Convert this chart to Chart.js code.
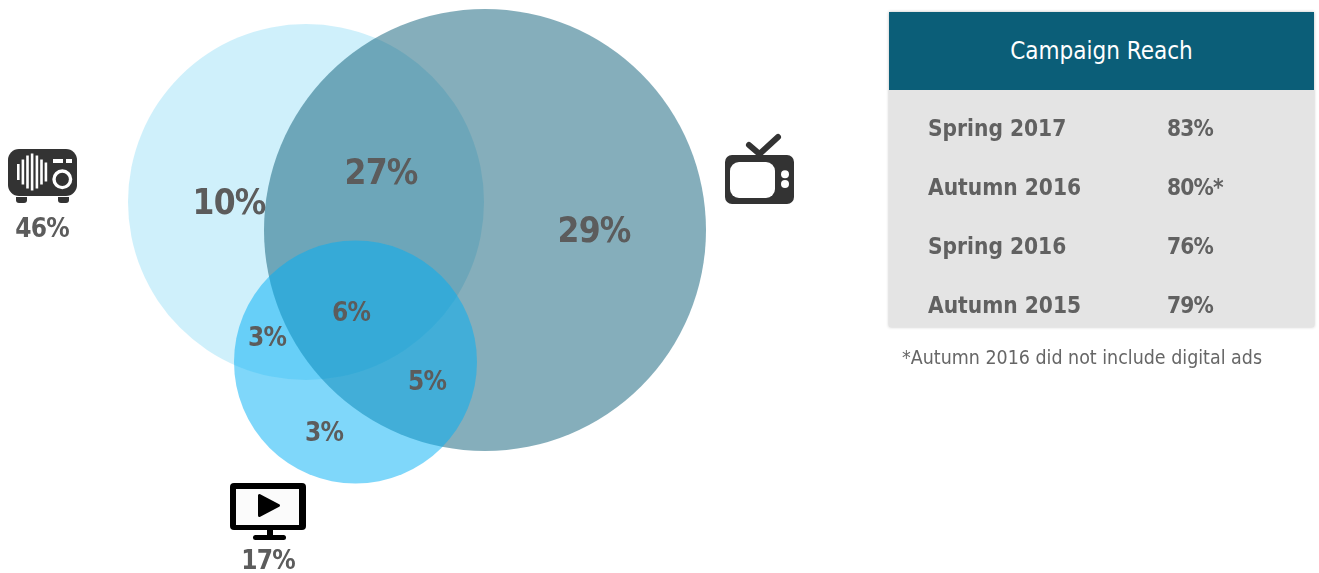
<!DOCTYPE html>
<html>
<head>
<meta charset="utf-8">
<title>Campaign Reach</title>
<script src="https://cdn.jsdelivr.net/npm/chart.js@4"></script>
<style>
    html, body { margin: 0; background: #fff; }
    body { width: 1319px; height: 573px; position: relative; overflow: hidden; font-family: "DejaVu Sans Condensed", "DejaVu Sans", sans-serif; }
    #vennChart { position: absolute; left: 0; top: 0; }
    #reachTable { position: absolute; left: 889px; top: 12px; width: 425px; height: 315px; background: #e4e4e4; box-shadow: 0 0 3px #bdbdbd; overflow: hidden; }
    #reachTable .head { height: 78px; line-height: 79px; background: #0b5e78; color: #fff; font-size: 24px; text-align: center; }
    #reachTable .row { position: absolute; left: 0; width: 100%; height: 30px; line-height: 30px; color: #616161; font-size: 22.5px; font-weight: bold; }
    #reachTable .row span { position: absolute; left: 39px; white-space: nowrap; }
    #reachTable .row span + span { left: 278px; letter-spacing: -0.8px; }
    #note { position: absolute; left: 902px; top: 346px; color: #666; font-size: 19.45px; white-space: nowrap; }
</style>
</head>
<body>
<canvas id="vennChart" width="1319" height="573"></canvas>
<div id="reachTable"><div class="head">Campaign Reach</div></div>
<div id="note">*Autumn 2016 did not include digital ads</div>

<script>
// circles of the venn diagram: radio, tv, digital video
const circleX = [306, 485, 355.5];
const circleY = [202, 230, 362];
const circleR = [178, 221, 121.5];

// share printed inside each region
const regionShares = ['10%', '27%', '29%', '6%', '3%', '5%', '3%'];
const regionX = [229, 381, 594, 351, 267, 427, 324];
const regionY = [205, 175, 233, 314, 339, 383, 434];
const regionSize = [35, 35, 35, 26, 26, 26, 26];

// totals printed under the icons
const channelTotals = ['46%', '17%'];
const totalX = [42, 268];
const totalY = [230, 562];

const seasons = ['Spring 2017', 'Autumn 2016', 'Spring 2016', 'Autumn 2015'];
const campaignReach = ['83%', '80%*', '76%', '79%'];

const circleColors = ['rgba(160,226,247,0.5)', 'rgba(11,94,120,0.5)', 'rgba(0,176,245,0.5)'];
const labelColor = '#5c5c5c';
const iconColor = '#333';

const table = document.getElementById('reachTable');
seasons.forEach((season, i) => {
    const row = document.createElement('div');
    row.className = 'row';
    row.style.top = (101 + i * 59) + 'px';
    row.innerHTML = `<span>${season}</span><span>${campaignReach[i]}</span>`;
    table.appendChild(row);
});

function roundBox(ctx, x, y, w, h, r) {
    ctx.beginPath();
    ctx.roundRect(x, y, w, h, r);
}

function drawRadio(ctx) {
    ctx.fillStyle = iconColor;
    roundBox(ctx, 8, 149, 69, 47, 11);
    ctx.fill();
    roundBox(ctx, 16, 197, 11, 6, [0, 0, 3, 3]);
    ctx.fill();
    roundBox(ctx, 58, 197, 11, 6, [0, 0, 3, 3]);
    ctx.fill();

    ctx.fillStyle = '#fff';
    const stripeX = [17, 21.6, 26.2, 30.8, 35.6, 40.2, 44.6];
    const stripeH = [16, 25, 33, 37, 33, 25, 19];
    stripeX.forEach((x, i) => ctx.fillRect(x, 172 - stripeH[i] / 2, 2.6, stripeH[i]));
    ctx.fillRect(53, 159, 10, 4);
    ctx.fillRect(66, 159, 6, 4);

    ctx.strokeStyle = '#fff';
    ctx.lineWidth = 3.4;
    ctx.beginPath();
    ctx.arc(62.3, 179.3, 8.3, 0, Math.PI * 2);
    ctx.stroke();
}

function drawTv(ctx) {
    ctx.fillStyle = iconColor;
    roundBox(ctx, 725, 155, 69, 49, 7);
    ctx.fill();

    ctx.strokeStyle = iconColor;
    ctx.lineWidth = 6;
    ctx.lineCap = 'round';
    ctx.beginPath();
    ctx.moveTo(749, 145);
    ctx.lineTo(759.5, 154);
    ctx.lineTo(778, 137);
    ctx.stroke();

    ctx.fillStyle = '#fff';
    roundBox(ctx, 730, 162, 45, 36, 9);
    ctx.fill();
    [174.3, 184].forEach(y => {
        ctx.beginPath();
        ctx.arc(785, y, 4, 0, Math.PI * 2);
        ctx.fill();
    });
}

function drawMonitor(ctx) {
    ctx.fillStyle = '#000';
    roundBox(ctx, 230, 483, 76, 47, 4);
    ctx.fill();
    ctx.fillRect(267, 530, 6, 6);
    roundBox(ctx, 253, 535, 33, 5, 2.5);
    ctx.fill();

    ctx.fillStyle = '#fbfbfb';
    ctx.fillRect(236, 489, 63, 36);

    ctx.fillStyle = '#000';
    ctx.strokeStyle = '#000';
    ctx.lineWidth = 3;
    ctx.lineJoin = 'round';
    ctx.beginPath();
    ctx.moveTo(259.5, 495.5);
    ctx.lineTo(259.5, 515.5);
    ctx.lineTo(278.5, 505.5);
    ctx.closePath();
    ctx.fill();
    ctx.stroke();
}

// icons and percent labels go on top of the bubbles
const vennLabels = {
    id: 'vennLabels',
    afterDatasetsDraw(chart) {
        const ctx = chart.ctx;
        const x = chart.scales.x;
        const y = chart.scales.y;
        ctx.save();
        drawRadio(ctx);
        drawTv(ctx);
        drawMonitor(ctx);

        ctx.fillStyle = labelColor;
        ctx.textAlign = 'center';
        ctx.textBaseline = 'middle';
        ctx.letterSpacing = '-0.8px';
        regionShares.forEach((text, i) => {
            ctx.font = `bold ${regionSize[i]}px "DejaVu Sans Condensed", "DejaVu Sans", sans-serif`;
            ctx.fillText(text, x.getPixelForValue(regionX[i]), y.getPixelForValue(regionY[i]));
        });
        ctx.font = 'bold 26px "DejaVu Sans Condensed", "DejaVu Sans", sans-serif';
        channelTotals.forEach((text, i) => {
            ctx.fillText(text, x.getPixelForValue(totalX[i]), y.getPixelForValue(totalY[i]));
        });
        ctx.restore();
    }
};

new Chart(document.getElementById('vennChart'), {
    type: 'bubble',
    data: {
        datasets: [{
            data: circleX.map((x, i) => ({ x: x, y: circleY[i], r: circleR[i] })),
            backgroundColor: circleColors,
            borderWidth: 0,
            hoverBorderWidth: 0,
            clip: false
        }]
    },
    options: {
        responsive: false,
        animation: false,
        events: [],
        layout: { autoPadding: false, padding: 0 },
        scales: {
            x: { type: 'linear', display: false, min: 0, max: 1319 },
            y: { type: 'linear', display: false, min: 0, max: 573, reverse: true }
        },
        plugins: {
            legend: { display: false },
            tooltip: { enabled: false }
        }
    },
    plugins: [vennLabels]
});
</script>
</body>
</html>
